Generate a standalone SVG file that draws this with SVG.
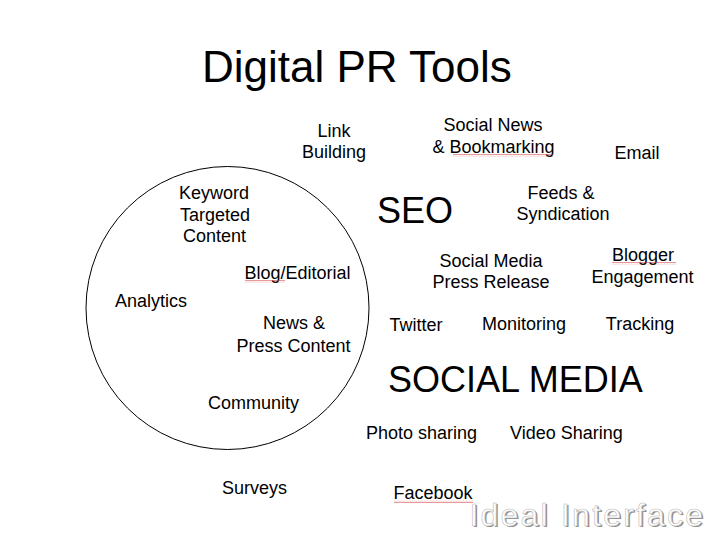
<svg xmlns="http://www.w3.org/2000/svg" width="718" height="539" viewBox="0 0 718 539">
<style>
text{font-family:"Liberation Sans",Arial,sans-serif;fill:#000;}
.lbl{font-size:18px;text-anchor:middle;}
.big{font-size:36px;}
.title{font-size:44px;}
.wm{font-size:32px;letter-spacing:2.2px;}
</style>
<defs>
<pattern id="zz" width="3" height="3" patternUnits="userSpaceOnUse">
<path d="M0,2.2 L0.75,0.8 L1.5,2.2 L2.25,0.8 L3,2.2" fill="none" stroke="#d04040" stroke-width="0.5"/>
</pattern>
</defs>
<rect width="718" height="539" fill="#fff"/>
<g id="title"><text class="title" x="202" y="82">Digital PR Tools</text></g>
<g id="circle"><circle cx="227.5" cy="308" r="141.5" fill="none" stroke="#000" stroke-width="1"/></g>
<g id="connectors"></g>
<g id="seo"><text class="big" x="377" y="223">SEO</text></g>
<g id="social-media"><text class="big" x="388" y="392">SOCIAL MEDIA</text></g>
<g id="link-building"><text class="lbl" x="334" y="137">Link</text><text class="lbl" x="334" y="158">Building</text></g>
<g id="social-news"><text class="lbl" x="493" y="131">Social News</text><text class="lbl" x="493.5" y="153">&amp; Bookmarking</text><rect x="453" y="154" width="100" height="3" fill="url(#zz)"/></g>
<g id="email"><text class="lbl" x="637" y="159">Email</text></g>
<g id="feeds"><text class="lbl" x="561" y="199">Feeds &amp;</text><text class="lbl" x="563" y="220">Syndication</text></g>
<g id="press-release"><text class="lbl" x="491" y="267">Social Media</text><text class="lbl" x="491" y="288">Press Release</text></g>
<g id="blogger"><text class="lbl" x="643" y="261">Blogger</text><text class="lbl" x="642.5" y="283">Engagement</text><rect x="612" y="262" width="64" height="3" fill="url(#zz)"/></g>
<g id="keyword"><text class="lbl" x="214" y="199">Keyword</text><text class="lbl" x="215" y="221">Targeted</text><text class="lbl" x="214.5" y="242">Content</text></g>
<g id="blog"><text class="lbl" x="297.5" y="279">Blog/Editorial</text><rect x="245" y="280" width="40" height="3" fill="url(#zz)"/></g>
<g id="analytics"><text class="lbl" x="151" y="307">Analytics</text></g>
<g id="news"><text class="lbl" x="294" y="329">News &amp;</text><text class="lbl" x="293.5" y="352">Press Content</text></g>
<g id="community"><text class="lbl" x="253.5" y="409">Community</text></g>
<g id="twitter"><text class="lbl" x="416" y="331">Twitter</text></g>
<g id="monitoring"><text class="lbl" x="524" y="330">Monitoring</text></g>
<g id="tracking"><text class="lbl" x="640" y="330">Tracking</text></g>
<g id="photo"><text class="lbl" x="421.5" y="439">Photo sharing</text></g>
<g id="video"><text class="lbl" x="566.5" y="439">Video Sharing</text></g>
<g id="surveys"><text class="lbl" x="254.5" y="494">Surveys</text></g>
<g id="facebook"><text class="lbl" x="433" y="499">Facebook</text><rect x="394" y="500" width="79" height="3" fill="url(#zz)"/></g>
<g id="watermark">
<text class="wm" x="471" y="527" style="fill:#8a8a8a">Ideal Interface</text>
<text class="wm" x="469.5" y="525.5" style="fill:#fff;stroke:#bbb;stroke-width:0.6">Ideal Interface</text>
</g>
</svg>
